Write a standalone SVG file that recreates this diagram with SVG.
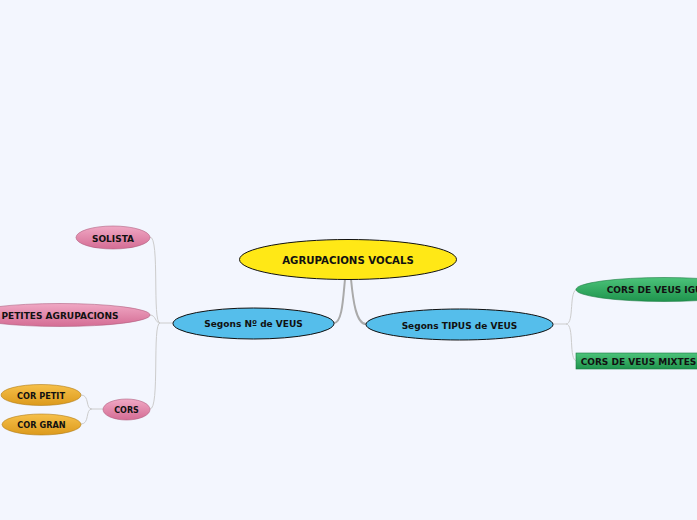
<svg xmlns="http://www.w3.org/2000/svg" width="697" height="520" viewBox="0 0 697 520">
<style>
text{font-family:"DejaVu Sans",Verdana,sans-serif;font-weight:bold;fill:#111;text-anchor:middle;dominant-baseline:central}
.main{stroke:#aaa;stroke-width:2;fill:none}
.sub{stroke:#ccc;stroke-width:1;fill:none}
</style>
<defs>
<linearGradient id="pink" x1="0" y1="0" x2="0" y2="1"><stop offset="0" stop-color="#f0a8c4"/><stop offset="1" stop-color="#d46c94"/></linearGradient>
<linearGradient id="orange" x1="0" y1="0" x2="0" y2="1"><stop offset="0" stop-color="#f6c04a"/><stop offset="1" stop-color="#dc9a1c"/></linearGradient>
<linearGradient id="green" x1="0" y1="0" x2="0" y2="1"><stop offset="0" stop-color="#4cc37a"/><stop offset="1" stop-color="#1f944d"/></linearGradient>
</defs>
<rect width="697" height="520" fill="#f3f6fe"/>
<g id="connectors">
<path class="main" d="M345,279 C343,300 342,323 334,323"/>
<path class="main" d="M351,279 C353,300 356,324 366,324"/>
<path class="sub" d="M173,323 L160,323 C152,323 160,237 150,237"/>
<path class="sub" d="M160,323 C155,323 156,315 150,315"/>
<path class="sub" d="M160,323 C152,323 160,409 150,409"/>
<path class="sub" d="M103,409 L92,409 C85,409 90,395 81,395"/>
<path class="sub" d="M92,409 C85,409 90,424 81,424"/>
<path class="sub" d="M553,324 L566,324 C575,324 568,289 578,289"/>
<path class="sub" d="M566,324 C575,324 568,361 577,361"/>
</g>
<g id="root">
<ellipse cx="348" cy="259.5" rx="108.5" ry="20" fill="#ffe816" stroke="#111" stroke-width="1"/>
<text x="348" y="260" font-size="10.2">AGRUPACIONS VOCALS</text>
</g>
<g id="n-veus">
<ellipse cx="253.5" cy="323.5" rx="80.5" ry="15.5" fill="#55beeb" stroke="#111" stroke-width="1"/>
<text x="253.5" y="324" font-size="9">Segons Nº de VEUS</text>
</g>
<g id="tipus-veus">
<ellipse cx="459.5" cy="324.5" rx="93.5" ry="15.5" fill="#55beeb" stroke="#111" stroke-width="1"/>
<text x="459.5" y="325.5" font-size="9">Segons TIPUS de VEUS</text>
</g>
<g id="solista">
<ellipse cx="113" cy="237.5" rx="37" ry="11.5" fill="url(#pink)" stroke="#b06080" stroke-width="0.6"/>
<text x="113" y="239" font-size="9">SOLISTA</text>
</g>
<g id="petites">
<ellipse cx="60" cy="315" rx="90" ry="11.5" fill="url(#pink)" stroke="#b06080" stroke-width="0.6"/>
<text x="60" y="316" font-size="9">PETITES AGRUPACIONS</text>
</g>
<g id="cors">
<ellipse cx="126.5" cy="409.5" rx="23.5" ry="10.5" fill="url(#pink)" stroke="#b06080" stroke-width="0.6"/>
<text x="126.5" y="410" font-size="8">CORS</text>
</g>
<g id="cor-petit">
<ellipse cx="41" cy="395" rx="40" ry="10.5" fill="url(#orange)" stroke="#b07c18" stroke-width="0.6"/>
<text x="41" y="395.5" font-size="8.2">COR PETIT</text>
</g>
<g id="cor-gran">
<ellipse cx="41.5" cy="424.5" rx="39.5" ry="10.5" fill="url(#orange)" stroke="#b07c18" stroke-width="0.6"/>
<text x="41.5" y="425" font-size="8.2">COR GRAN</text>
</g>
<g id="iguals">
<ellipse cx="664" cy="289.5" rx="88" ry="12" fill="url(#green)" stroke="#1a7a40" stroke-width="0.6"/>
<text x="664" y="290" font-size="9">CORS DE VEUS IGUALS</text>
</g>
<g id="mixtes">
<rect x="576" y="353" width="130" height="16" fill="url(#green)" stroke="#1a7a40" stroke-width="0.6"/>
<text x="638.5" y="361.5" font-size="9">CORS DE VEUS MIXTES</text>
</g>
</svg>
